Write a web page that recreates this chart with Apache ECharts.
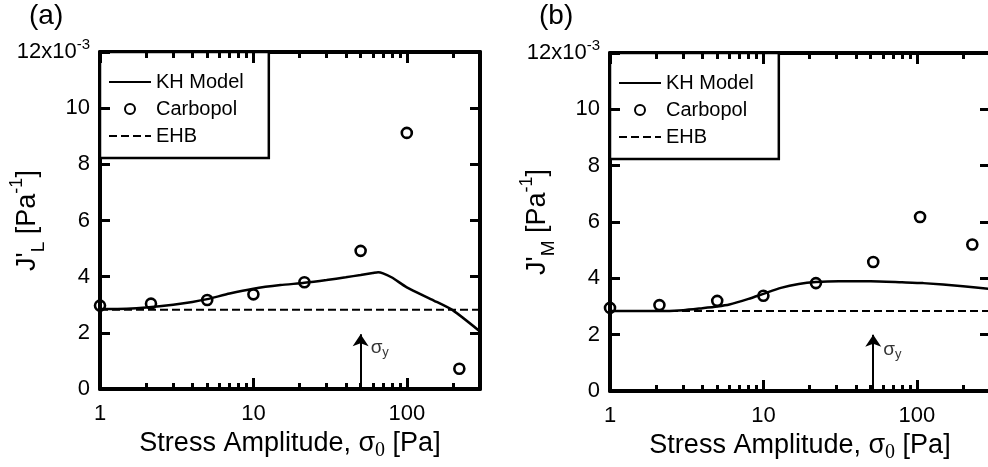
<!DOCTYPE html>
<html>
<head>
<meta charset="utf-8">
<script src="https://cdn.jsdelivr.net/npm/echarts@6/dist/echarts.min.js"></script>
<style>
  html, body { margin: 0; padding: 0; background: #fff; }
  #chart { width: 988px; height: 467px; }
</style>
</head>
<body>
<div id="chart"></div>
<script>
// ---- Panel (a): J'_L versus stress amplitude ----
const stressA   = [1, 2.15, 5, 10, 21.5, 50, 100, 220];
const carbopolA = [2.97, 3.04, 3.17, 3.37, 3.8, 4.92, 9.12, 0.72];
const khStressA = [1, 1.5, 2, 3, 4, 5, 7, 10, 15, 21.5, 30, 40, 50, 60, 65, 70, 80, 100, 150, 200, 300];
const khA       = [2.85, 2.86, 2.9, 3.0, 3.1, 3.2, 3.4, 3.57, 3.7, 3.78, 3.88, 3.98, 4.06, 4.13, 4.16, 4.12, 3.97, 3.62, 3.15, 2.8, 2.05];
const ehbA      = 2.82;

// ---- Panel (b): J'_M versus stress amplitude ----
const stressB   = [1, 2.1, 5, 10, 22, 52, 105, 230];
const carbopolB = [2.95, 3.05, 3.2, 3.38, 3.83, 4.58, 6.18, 5.2];
const khStressB = [1, 2, 3, 4, 5, 6, 8, 10, 13, 17, 22, 31, 50, 80, 110, 200, 300];
const khB       = [2.84, 2.84, 2.87, 2.94, 3.0, 3.07, 3.27, 3.45, 3.66, 3.8, 3.87, 3.9, 3.9, 3.86, 3.83, 3.72, 3.62];
const ehbB      = 2.84;

// Yield stress arrows: position on the stress axis and tip height
const yieldStress = [50, 52];
const arrowTip    = [1.95, 2.0];
const yieldLabelY = 1.46;

// Axes
const xRange      = [1, 300];
const yRange      = [0, 12];
const yStep       = 2;
const yTicks      = [0, 2, 4, 6, 8, 10, 12];
const xMajorTicks = [1, 10, 100];
const xMinorTicks = [2, 3, 4, 5, 6, 7, 8, 9, 20, 30, 40, 50, 60, 70, 80, 90, 200];
const panelTags   = ['(a)', '(b)'];
const yNames      = ['L', 'M'];

const FONT = 'Liberation Sans, Arial, Helvetica, sans-serif';
const INK = '#000';
// tick lengths in pixels
const MAJOR_LEN = 11, MINOR_LEN = 6, Y_TICK_LEN = 10;

const pairs = (xs, ys) => xs.map((x, i) => [x, ys[i]]);

const grids = [
  { left: 100, top: 52, width: 380, height: 337, outerBoundsMode: 'none', containLabel: false },
  { left: 610, top: 53, width: 380, height: 338, outerBoundsMode: 'none', containLabel: false }
];

// Inward tick segments on all four sides of a frame, as markLine pairs in data space.
// Pixel lengths are turned into data offsets from the frame size and axis spans.
function tickSegments(g) {
  const ySpan = yRange[1] - yRange[0];
  const dyMajor = MAJOR_LEN / g.height * ySpan;
  const dyMinor = MINOR_LEN / g.height * ySpan;
  const logSpan = Math.log10(xRange[1] / xRange[0]);
  const kx = Math.pow(10, Y_TICK_LEN / g.width * logSpan);
  const segs = [];
  const seg = (a, b) => segs.push([{ coord: a }, { coord: b }]);
  xMajorTicks.forEach(v => {
    seg([v, yRange[0]], [v, yRange[0] + dyMajor]);
    seg([v, yRange[1]], [v, yRange[1] - dyMajor]);
  });
  xMinorTicks.forEach(v => {
    seg([v, yRange[0]], [v, yRange[0] + dyMinor]);
    seg([v, yRange[1]], [v, yRange[1] - dyMinor]);
  });
  yTicks.forEach(v => {
    seg([xRange[0], v], [xRange[0] * kx, v]);
    seg([xRange[1], v], [xRange[1] / kx, v]);
  });
  return segs;
}

const xAxes = [];
const yAxes = [];
const series = [];

function isMajor(v) {
  return xMajorTicks.some(m => Math.abs(v - m) / m < 1e-6);
}

const frameLine = () => ({ show: true, onZero: false, lineStyle: { color: INK, width: 4 } });

grids.forEach((g, gi) => {
  // bottom log axis with labels and title
  xAxes.push({
    type: 'log', logBase: 10, gridIndex: gi, min: xRange[0], max: xRange[1],
    position: 'bottom',
    axisLine: frameLine(),
    axisTick: { show: false },
    splitLine: { show: false },
    axisLabel: {
      color: INK, fontFamily: FONT, fontSize: 22, margin: 14,
      formatter: v => isMajor(v) ? String(Math.round(v)) : ''
    },
    name: '{t|Stress Amplitude, }{s|σ}{z|0}{t| [Pa]}',
    nameLocation: 'middle', nameGap: 38, nameMoveOverlap: false,
    nameTextStyle: {
      color: INK, fontFamily: FONT,
      rich: {
        t: { fontSize: 27, fontFamily: FONT, color: INK, lineHeight: 34, verticalAlign: 'middle' },
        s: { fontSize: 27, fontFamily: FONT, color: INK, lineHeight: 34, verticalAlign: 'middle' },
        z: { fontSize: 20, fontFamily: 'Liberation Serif, Times New Roman, serif', color: INK, lineHeight: 16, verticalAlign: 'bottom' }
      }
    }
  });
  // top frame edge
  xAxes.push({
    type: 'log', logBase: 10, gridIndex: gi, min: xRange[0], max: xRange[1],
    position: 'top',
    axisLine: frameLine(),
    axisTick: { show: false },
    axisLabel: { show: false },
    splitLine: { show: false }
  });
  // left value axis
  yAxes.push({
    type: 'value', gridIndex: gi, min: yRange[0], max: yRange[1], interval: yStep,
    position: 'left',
    axisLine: frameLine(),
    axisTick: { show: false },
    splitLine: { show: false },
    axisLabel: {
      color: INK, fontFamily: FONT, fontSize: 22, margin: 10,
      formatter: v => v === yRange[1] ? '{n|' + v + 'x10}{p|-3}' : '{n|' + v + '}',
      rich: {
        n: { fontSize: 22, fontFamily: FONT, color: INK, lineHeight: 30, verticalAlign: 'middle' },
        p: { fontSize: 15, fontFamily: FONT, color: INK, lineHeight: 12, verticalAlign: 'top' }
      }
    },
    name: "J'{b|" + yNames[gi] + "} [Pa{p|-1}]",
    nameLocation: 'middle', nameGap: 52, nameRotate: 90, nameMoveOverlap: false,
    nameTextStyle: {
      color: INK, fontFamily: FONT, fontSize: 27, lineHeight: 40,
      rich: {
        b: { fontSize: 19, fontFamily: FONT, color: INK, lineHeight: 18, verticalAlign: 'bottom' },
        p: { fontSize: 18, fontFamily: FONT, color: INK, lineHeight: 12, verticalAlign: 'top' }
      }
    }
  });
  // right frame edge
  yAxes.push({
    type: 'value', gridIndex: gi, min: yRange[0], max: yRange[1], interval: yStep,
    position: 'right',
    axisLine: frameLine(),
    axisTick: { show: false },
    axisLabel: { show: false },
    splitLine: { show: false }
  });
});

const panels = [
  { stress: stressA, carb: carbopolA, khX: khStressA, kh: khA, ehb: ehbA },
  { stress: stressB, carb: carbopolB, khX: khStressB, kh: khB, ehb: ehbB }
];

panels.forEach((p, gi) => {
  const xi = gi * 2, yi = gi * 2;
  series.push({
    name: 'KH Model', type: 'line', xAxisIndex: xi, yAxisIndex: yi,
    data: pairs(p.khX, p.kh), symbol: 'none', smooth: 0.2,
    lineStyle: { color: INK, width: 2.5 }, itemStyle: { color: INK }, z: 3
  });
  series.push({
    name: 'Carbopol', type: 'scatter', xAxisIndex: xi, yAxisIndex: yi,
    data: pairs(p.stress, p.carb), symbol: 'circle', symbolSize: 10, clip: false,
    itemStyle: { color: 'rgba(0,0,0,0)', borderColor: INK, borderWidth: 2.6, opacity: 1 }, z: 4
  });
  series.push({
    name: 'EHB', type: 'line', xAxisIndex: xi, yAxisIndex: yi,
    data: [[xRange[0], p.ehb], [xRange[1], p.ehb]], symbol: 'none',
    lineStyle: { color: INK, width: 2, type: [8, 4] }, itemStyle: { color: INK }, z: 2
  });
  // yield stress arrow with sigma_y label, plus the frame ticks
  series.push({
    name: 'yield' + gi,
    type: 'scatter', xAxisIndex: xi, yAxisIndex: yi, silent: true, clip: false,
    symbolSize: 0, data: [[yieldStress[gi], yieldLabelY]],
    label: {
      show: true, position: 'right', distance: 10, color: INK,
      formatter: '{s|σ}{y|y}',
      rich: {
        s: { fontSize: 19, fontFamily: FONT, color: INK, lineHeight: 22, verticalAlign: 'middle' },
        y: { fontSize: 13, fontFamily: FONT, color: INK, lineHeight: 12, verticalAlign: 'bottom' }
      }
    },
    markLine: {
      silent: true, symbol: ['none', 'none'], symbolSize: 12,
      label: { show: false },
      lineStyle: { color: INK, width: 3, type: 'solid' },
      itemStyle: { color: INK },
      data: tickSegments(grids[gi]).concat([[
        { coord: [yieldStress[gi], yRange[0]], symbol: 'none', lineStyle: { width: 2 } },
        { coord: [yieldStress[gi], arrowTip[gi]], symbol: 'arrow', symbolSize: 12 }
      ]])
    }
  });
});

// line entries hide the marker dot that legends add to line icons
const hiddenDot = { color: 'rgba(0,0,0,0)', borderWidth: 0 };
const legendBase = {
  orient: 'vertical',
  data: [
    { name: 'KH Model', itemStyle: hiddenDot },
    { name: 'Carbopol' },
    { name: 'EHB', itemStyle: hiddenDot }
  ],
  itemWidth: 42, itemHeight: 10, itemGap: 7,
  padding: [20, 25, 12, 8],
  borderColor: INK, borderWidth: 2.5, borderRadius: 0,
  backgroundColor: '#fff',
  textStyle: { color: INK, fontFamily: FONT, fontSize: 20 },
  selectedMode: false
};

const chart = echarts.init(document.getElementById('chart'), null, { renderer: 'canvas' });
chart.setOption({
  backgroundColor: '#fff',
  animation: false,
  title: panelTags.map((t, i) => ({
    text: t, left: i === 0 ? 24 : 534, top: -3,
    textStyle: { color: INK, fontFamily: FONT, fontSize: 28, fontWeight: 'normal' }
  })),
  legend: [
    Object.assign({}, legendBase, { left: 100, top: 52 }),
    Object.assign({}, legendBase, { left: 610, top: 53 })
  ],
  grid: grids,
  xAxis: xAxes,
  yAxis: yAxes,
  series: series
});
</script>
</body>
</html>
